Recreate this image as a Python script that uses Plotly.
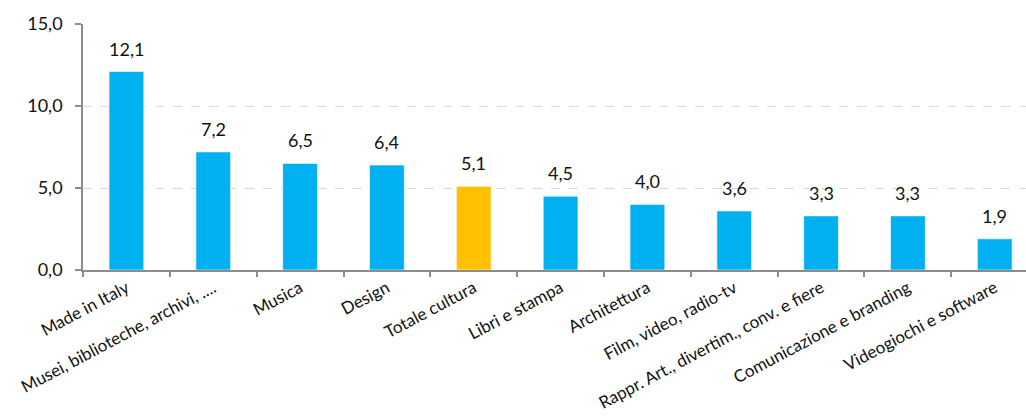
import plotly.graph_objects as go

# Categories and values (percent)
categories = [
    "Made in Italy",
    "Musei, biblioteche, archivi, ....",
    "Musica",
    "Design",
    "Totale cultura",
    "Libri e stampa",
    "Architettura",
    "Film, video, radio-tv",
    "Rappr. Art., divertim., conv. e fiere",
    "Comunicazione e branding",
    "Videogiochi e software",
]
values = [12.1, 7.2, 6.5, 6.4, 5.1, 4.5, 4.0, 3.6, 3.3, 3.3, 1.9]
highlight = "Totale cultura"

BLUE = "#00B0F0"
ORANGE = "#FFC000"
colors = [ORANGE if c == highlight else BLUE for c in categories]

FONT = "Lato"
TEXT = "#111111"
AXIS = "#8c8c8c"

fig = go.Figure(
    go.Bar(
        x=categories,
        y=values,
        marker=dict(color=colors, line=dict(color="rgba(255,255,255,0.6)", width=1)),
        width=0.4,
        hoverinfo="skip",
    )
)

# Value labels above each bar
for c, v in zip(categories, values):
    fig.add_annotation(
        x=c, y=v, text=f"{v:.1f}".replace(".", ","),
        showarrow=False, yanchor="bottom", yshift=10,
        font=dict(family=FONT, size=18, color=TEXT),
    )

fig.update_layout(
    width=1026, height=416,
    margin=dict(l=83, r=0, t=24, b=146),
    paper_bgcolor="white", plot_bgcolor="white",
    separators=",.",
    showlegend=False,
    font=dict(family=FONT, size=18, color=TEXT),
)
fig.update_xaxes(
    range=[-0.5, 10.36], automargin=False,
    showline=True, linecolor=AXIS, linewidth=1.5,
    ticks="outside", tickson="boundaries", ticklen=5, tickcolor=AXIS, tickwidth=1.5,
    tickangle=-28, tickfont=dict(family=FONT, size=17, color=TEXT),
    showgrid=False,
)
fig.update_yaxes(
    range=[0, 15], tickvals=[0, 5, 10, 15], tickformat=".1f", automargin=False,
    showline=True, linecolor=AXIS, linewidth=1.5,
    ticks="outside", ticklen=6, tickcolor=AXIS, tickwidth=1.5,
    ticklabelstandoff=9,
    showgrid=True, gridcolor="#d9d9d9", gridwidth=1.3, griddash="dash",
    zeroline=False,
    tickfont=dict(family=FONT, size=18, color=TEXT),
)

fig.write_html("out.html")
